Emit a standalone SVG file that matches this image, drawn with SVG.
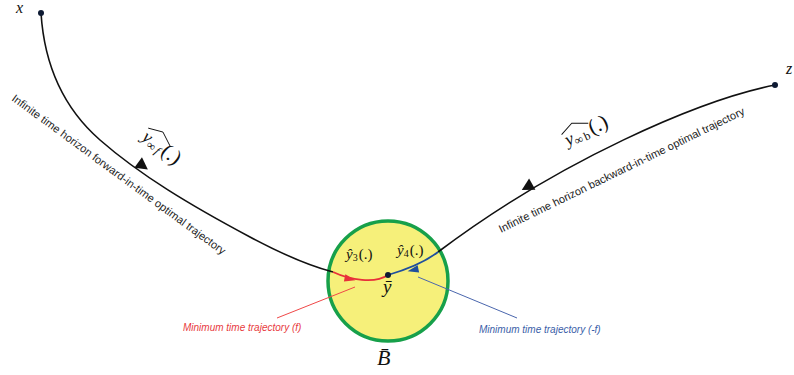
<svg xmlns="http://www.w3.org/2000/svg" width="794" height="375" viewBox="0 0 794 375">
<style>
.curve{fill:none;stroke:#111;stroke-width:1.6}
.red{fill:none;stroke:#e8303a;stroke-width:1.8}
.blue{fill:none;stroke:#1f4f9e;stroke-width:1.8}
.lead-r{stroke:#f04848;stroke-width:1}
.lead-b{stroke:#4a66ad;stroke-width:1}
.dot{fill:#0d1a33}
.m{font-family:"Liberation Serif","DejaVu Serif",serif;font-style:italic;fill:#111}
.lbl{font-family:"Liberation Sans",Arial,sans-serif;font-size:11px;fill:#222}
.cap{font-family:"Liberation Sans",Arial,sans-serif;font-size:10px;font-style:italic}
</style>
<defs>
<path id="ahb" d="M6,0 L-6,-6.5 L-6,6.5 Z"/>
<path id="ahs" d="M5.5,0 L-5.5,-3.6 L-5.5,3.6 Z"/>
</defs>
<g id="ball">
<circle cx="388" cy="281" r="60" fill="#f6f07a" stroke="#17a04a" stroke-width="3.5"/>
</g>
<g id="connectors">
<path class="curve" d="M41,13 C44,60 60,105 100,140 S190,205 250,237 C280,253 310,266 333,272"/>
<path class="curve" d="M775,85 C700,100 560,160 438,252"/>
<path class="red" d="M333,272 C350,280 375,284 388,275"/>
<path class="blue" d="M438,252 C425,262 405,270 388,275"/>
<use href="#ahb" fill="#111" transform="translate(143,166) rotate(36)"/>
<use href="#ahb" fill="#111" transform="translate(527,187) rotate(151)"/>
<use href="#ahs" fill="#e8303a" transform="translate(350,279) rotate(12)"/>
<use href="#ahs" fill="#1f4f9e" transform="translate(413,270) rotate(168)"/>
<line class="lead-r" x1="355" y1="287" x2="277" y2="318"/>
<line class="lead-b" x1="418" y1="277" x2="517" y2="318"/>
</g>
<g id="node-x">
<circle class="dot" cx="41" cy="13" r="3"/>
<text class="m" x="16" y="13" font-size="16">x</text>
</g>
<g id="node-z">
<circle class="dot" cx="775" cy="85" r="3"/>
<text class="m" x="786" y="74" font-size="16">z</text>
</g>
<g id="node-ybar">
<circle class="dot" cx="388" cy="275" r="3"/>
<text class="m" x="383" y="293" font-size="19">ȳ</text>
</g>
<g id="label-B">
<text class="m" x="377" y="365" font-size="22">B̄</text>
</g>
<g id="label-y3">
<text class="m" x="346" y="259" font-size="15">ŷ<tspan font-size="10" font-style="normal" dy="2">3</tspan><tspan font-size="15" font-style="normal" dy="-2" dx="1">(.)</tspan></text>
</g>
<g id="label-y4">
<text class="m" x="397" y="255" font-size="15">ŷ<tspan font-size="10" font-style="normal" dy="2">4</tspan><tspan font-size="15" font-style="normal" dy="-2" dx="1">(.)</tspan></text>
</g>
<g id="label-yinf-f" transform="translate(141,139) rotate(38)">
<text class="m" x="0" y="0" font-size="18">y<tspan font-size="12" font-style="normal" dy="3">∞</tspan><tspan font-size="12" dx="2">f</tspan><tspan font-size="21" font-style="normal" dy="-3" dx="2">(.)</tspan></text>
<polyline points="-1,-13 13,-19 28,-12" fill="none" stroke="#111" stroke-width="0.9"/>
</g>
<g id="label-yinf-b" transform="translate(568,146) rotate(-25)">
<text class="m" x="0" y="0" font-size="18">y<tspan font-size="12" font-style="normal" dy="3">∞</tspan><tspan font-size="12" font-style="normal" dx="2">b</tspan><tspan font-size="21" font-style="normal" dy="-3" dx="2">(.)</tspan></text>
<polyline points="-1,-13 13,-19 28,-12" fill="none" stroke="#111" stroke-width="0.9"/>
</g>
<g id="label-forward">
<text class="lbl" transform="translate(11,100) rotate(36.3)" textLength="262" lengthAdjust="spacingAndGlyphs">Infinite time horizon forward-in-time optimal trajectory</text>
</g>
<g id="label-backward">
<text class="lbl" transform="translate(501,233) rotate(-26)" textLength="272" lengthAdjust="spacingAndGlyphs">Infinite time horizon backward-in-time optimal trajectory</text>
</g>
<g id="label-min-f">
<text class="cap" x="183" y="331" fill="#e83a40">Minimum time trajectory (f)</text>
</g>
<g id="label-min-b">
<text class="cap" x="479" y="333" fill="#3a5ea8">Minimum time trajectory (-f)</text>
</g>
</svg>
